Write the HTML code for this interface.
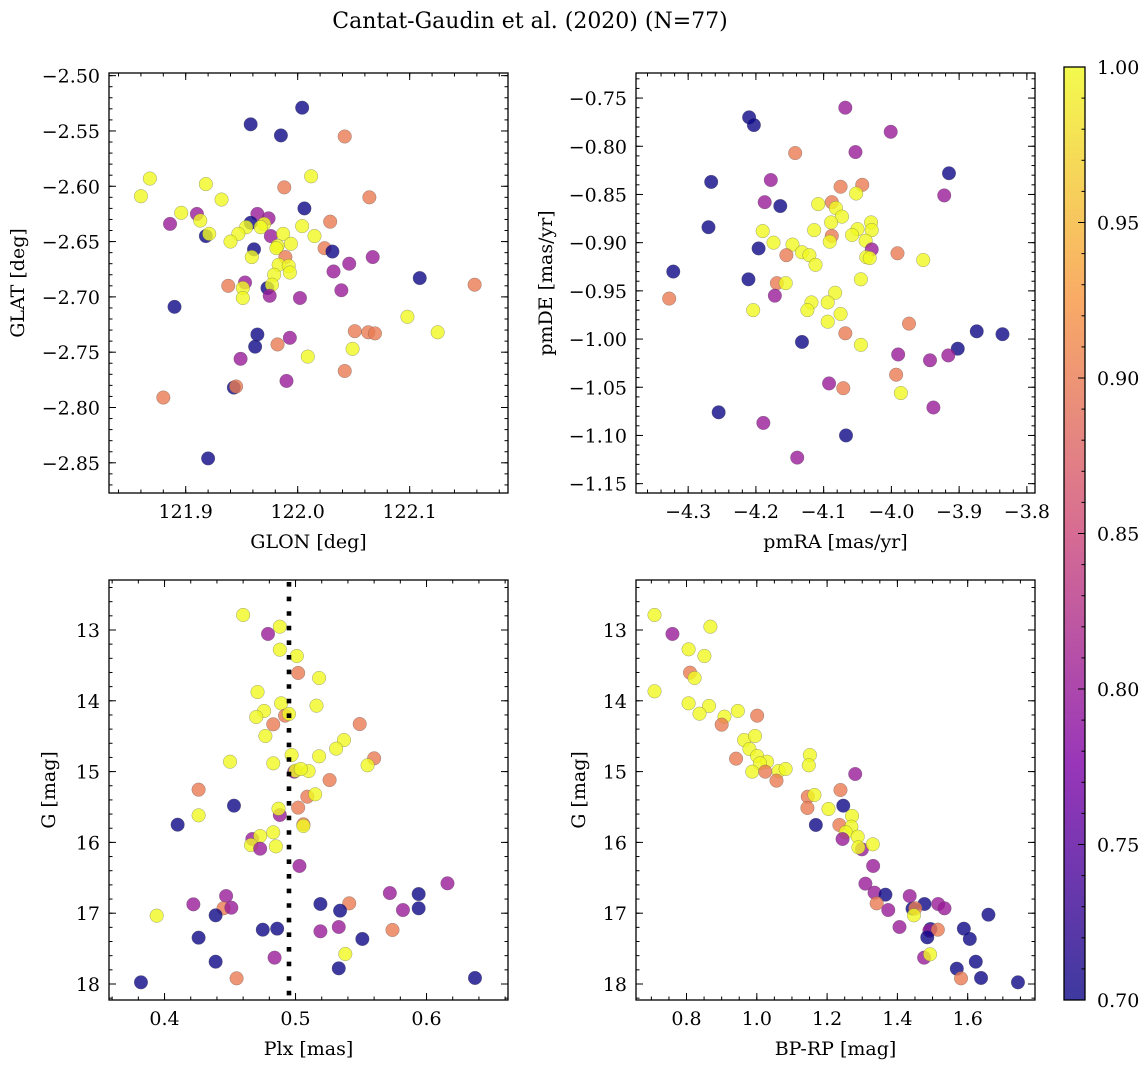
<!DOCTYPE html>
<html><head><meta charset="utf-8"><title>Cantat-Gaudin et al. (2020)</title>
<style>
html,body{margin:0;padding:0;background:#fff;}
svg{display:block;font-family:"DejaVu Serif","Liberation Serif",serif;}
</style></head>
<body>
<svg id="fig" width="1148" height="1067" viewBox="0 0 1148 1067" xmlns="http://www.w3.org/2000/svg">
<text x="530" y="28" font-size="22" text-anchor="middle">Cantat-Gaudin et al. (2020) (N=77)</text>
</svg>
<script>
// ---------- Panel 1: GLON / GLAT ----------
const p1Glon=[122.004,121.958,121.985,122.042,121.868,121.918,122.012,121.860,121.988,121.932,122.064,122.006,121.896,121.910,121.886,121.913,121.964,121.974,121.958,121.970,121.954,121.967,122.029,122.004,122.015,121.918,121.921,121.947,121.940,121.976,121.987,121.994,121.982,121.981,121.961,122.024,122.031,121.959,121.989,122.067,122.046,121.983,121.992,121.993,122.032,121.979,121.938,121.953,121.951,121.973,121.977,121.975,121.951,122.002,122.039,122.109,122.158,121.890,122.098,122.051,122.063,122.069,122.125,121.964,121.993,121.962,121.982,122.049,121.949,122.009,122.042,121.990,121.943,121.945,121.880,121.920];
const p1Glat=[-2.529,-2.544,-2.554,-2.555,-2.593,-2.598,-2.591,-2.609,-2.601,-2.612,-2.610,-2.620,-2.624,-2.625,-2.634,-2.631,-2.625,-2.629,-2.633,-2.634,-2.637,-2.637,-2.632,-2.636,-2.645,-2.645,-2.643,-2.643,-2.650,-2.645,-2.643,-2.652,-2.654,-2.656,-2.657,-2.656,-2.659,-2.664,-2.664,-2.664,-2.670,-2.671,-2.672,-2.678,-2.677,-2.680,-2.690,-2.687,-2.692,-2.692,-2.689,-2.699,-2.701,-2.701,-2.694,-2.683,-2.689,-2.709,-2.718,-2.731,-2.732,-2.733,-2.732,-2.734,-2.737,-2.745,-2.743,-2.747,-2.756,-2.754,-2.767,-2.776,-2.782,-2.781,-2.791,-2.846];
const p1Prob=[0.7,0.7,0.7,0.9,1,1,1,1,0.9,1,0.9,0.7,1,0.8,0.8,1,0.8,0.8,0.7,1,1,1,0.9,1,1,0.7,1,1,1,0.8,1,1,1,1,0.7,0.9,0.7,1,0.9,0.8,0.8,1,1,1,0.8,1,0.9,0.8,1,0.7,1,0.8,1,0.8,0.8,0.7,0.9,0.7,1,0.9,0.9,0.9,1,0.7,0.8,0.7,0.9,1,0.8,1,0.9,0.8,0.7,0.9,0.9,0.7];
const p1XTicks=[121.9,122.0,122.1];
const p1YTicks=[-2.50,-2.55,-2.60,-2.65,-2.70,-2.75,-2.80,-2.85];

// ---------- Panel 2: pmRA / pmDE ----------
const p2PmRA=[-4.068,-4.210,-4.203,-4.001,-4.142,-4.053,-3.915,-4.266,-4.178,-4.075,-4.043,-4.052,-4.187,-4.164,-4.088,-4.108,-4.082,-4.073,-4.089,-4.030,-4.050,-4.029,-4.190,-4.114,-4.270,-3.922,-4.058,-4.088,-4.091,-4.038,-4.029,-4.196,-4.174,-4.146,-4.132,-4.155,-4.121,-4.112,-4.037,-4.032,-3.991,-3.953,-4.322,-4.211,-4.169,-4.156,-4.045,-4.328,-4.172,-4.083,-4.204,-4.118,-4.094,-4.124,-4.075,-4.094,-3.974,-4.068,-4.132,-4.045,-3.874,-3.836,-3.902,-3.990,-3.916,-3.943,-3.993,-4.092,-4.071,-3.986,-3.938,-4.255,-4.189,-4.067,-4.139];
const p2PmDE=[-0.760,-0.770,-0.778,-0.785,-0.807,-0.806,-0.828,-0.837,-0.835,-0.842,-0.840,-0.849,-0.858,-0.862,-0.858,-0.860,-0.864,-0.873,-0.879,-0.879,-0.886,-0.887,-0.888,-0.887,-0.884,-0.851,-0.892,-0.893,-0.899,-0.898,-0.907,-0.906,-0.900,-0.902,-0.910,-0.913,-0.913,-0.923,-0.915,-0.916,-0.911,-0.918,-0.930,-0.938,-0.942,-0.942,-0.938,-0.958,-0.955,-0.952,-0.970,-0.962,-0.962,-0.970,-0.974,-0.982,-0.984,-0.994,-1.003,-1.006,-0.992,-0.995,-1.010,-1.016,-1.017,-1.022,-1.037,-1.046,-1.051,-1.056,-1.071,-1.076,-1.087,-1.100,-1.123];
const p2Prob=[0.8,0.7,0.7,0.8,0.9,0.8,0.7,0.7,0.8,0.9,0.9,1,0.8,0.7,0.9,1,1,1,1,1,1,1,1,1,0.7,0.8,1,0.9,1,1,0.8,0.7,1,1,1,0.9,1,1,1,1,0.9,1,0.7,0.7,0.9,1,1,0.9,0.8,1,1,1,1,1,1,1,0.9,0.9,0.7,1,0.7,0.7,0.7,0.8,0.8,0.8,0.9,0.8,0.9,1,0.8,0.7,0.8,0.7,0.8];
const p2XTicks=[-4.3,-4.2,-4.1,-4.0,-3.9,-3.8];
const p2YTicks=[-0.75,-0.80,-0.85,-0.90,-0.95,-1.00,-1.05,-1.10,-1.15];

// ---------- Panel 3: Plx / G ----------
const p3Plx=[0.460,0.488,0.479,0.488,0.501,0.502,0.518,0.471,0.489,0.516,0.476,0.470,0.492,0.495,0.483,0.549,0.477,0.537,0.531,0.497,0.518,0.560,0.555,0.450,0.483,0.499,0.500,0.510,0.504,0.526,0.426,0.509,0.515,0.453,0.502,0.488,0.487,0.426,0.410,0.506,0.506,0.483,0.467,0.473,0.466,0.473,0.485,0.503,0.616,0.572,0.594,0.447,0.422,0.519,0.541,0.445,0.451,0.534,0.582,0.594,0.394,0.439,0.475,0.486,0.519,0.533,0.574,0.426,0.551,0.538,0.484,0.439,0.533,0.455,0.637,0.382];
const p3G=[12.788,12.953,13.056,13.278,13.367,13.607,13.678,13.876,14.036,14.069,14.144,14.229,14.210,14.186,14.332,14.328,14.497,14.554,14.676,14.766,14.784,14.813,14.911,14.860,14.883,15.001,14.987,14.992,14.963,15.119,15.255,15.354,15.321,15.481,15.509,15.613,15.524,15.618,15.750,15.745,15.768,15.858,15.952,15.910,16.037,16.089,16.056,16.333,16.578,16.715,16.729,16.757,16.875,16.870,16.861,16.931,16.922,16.964,16.955,16.931,17.035,17.030,17.233,17.218,17.256,17.195,17.237,17.346,17.364,17.576,17.628,17.685,17.779,17.920,17.915,17.976];
const p3Prob=[1,1,0.8,1,1,0.9,1,1,1,1,1,1,0.9,1,0.9,0.9,1,1,1,1,1,0.9,1,1,1,0.8,1,1,1,0.9,0.9,0.9,1,0.7,0.9,0.8,1,1,0.7,0.9,1,1,0.8,1,1,0.8,1,0.8,0.8,0.8,0.7,0.8,0.8,0.7,0.9,0.9,0.8,0.7,0.8,0.7,1,0.7,0.7,0.7,0.8,0.8,0.9,0.7,0.7,1,0.8,0.7,0.7,0.9,0.7,0.7];
const plxCut=0.495;
const p3XTicks=[0.4,0.5,0.6];
const gTicks=[13,14,15,16,17,18];

// ---------- Panel 4: BP-RP / G ----------
const p4BpRp=[0.709,0.868,0.760,0.806,0.851,0.810,0.823,0.709,0.806,0.864,0.837,0.946,1.001,0.908,0.900,0.964,0.995,0.979,1.151,1.001,1.148,0.941,1.029,1.009,0.987,1.024,1.062,1.082,1.056,1.280,1.238,1.145,1.164,1.144,1.204,1.246,1.271,1.168,1.235,1.269,1.253,1.287,1.244,1.299,1.289,1.330,1.331,1.309,1.335,1.366,1.341,1.374,1.435,1.477,1.443,1.451,1.516,1.534,1.447,1.659,1.494,1.491,1.515,1.589,1.406,1.485,1.606,1.623,1.476,1.493,1.569,1.581,1.638,1.743];
const p4G=[12.788,12.953,13.056,13.273,13.367,13.603,13.678,13.866,14.036,14.073,14.182,14.144,14.210,14.224,14.337,14.554,14.497,14.681,14.766,14.780,14.911,14.817,14.860,14.883,15.001,15.001,14.992,14.963,15.128,15.034,15.260,15.354,15.330,15.514,15.528,15.481,15.627,15.754,15.754,15.778,15.858,15.919,15.952,16.098,16.070,16.027,16.333,16.583,16.710,16.738,16.861,16.955,16.757,16.870,16.936,16.931,16.870,16.931,17.030,17.021,17.223,17.247,17.233,17.218,17.195,17.341,17.364,17.685,17.628,17.581,17.783,17.920,17.915,17.976];
const p4Prob=[1,1,0.8,1,1,0.9,1,1,1,1,1,1,0.9,1,0.9,1,1,1,1,1,1,0.9,1,1,1,0.9,1,1,0.9,0.8,0.9,0.9,1,0.9,1,0.7,1,0.7,0.9,1,1,1,0.8,0.8,1,1,0.8,0.8,0.8,0.7,0.9,0.8,0.8,0.7,0.7,0.9,0.8,0.8,1,0.7,0.7,0.8,0.9,0.7,0.8,0.7,0.7,0.7,0.8,1,0.7,0.9,0.7,0.7];
const p4XTicks=[0.8,1.0,1.2,1.4,1.6];

// ---------- Colorbar ----------
const cbTicks=[0.70,0.75,0.80,0.85,0.90,0.95,1.00];
const cbRange=[0.70,1.00];

const NS="http://www.w3.org/2000/svg";
const svg=document.getElementById('fig');
const FS=19;
function mk(tag,attrs,parent){const e=document.createElementNS(NS,tag);for(const k in attrs)e.setAttribute(k,attrs[k]);(parent||svg).appendChild(e);return e;}
const stops=[[0,[13,8,135]],[0.25,[126,3,168]],[0.5,[204,71,120]],[0.75,[248,149,64]],[1,[240,249,33]]];
function plasma(t){t=Math.max(0,Math.min(1,t));for(let i=0;i<stops.length-1;i++){const a=stops[i],b=stops[i+1];if(t<=b[0]){const f=(t-a[0])/(b[0]-a[0]);const c=a[1].map((v,j)=>Math.round(v+(b[1][j]-v)*f));return `rgb(${c[0]},${c[1]},${c[2]})`;}}return 'rgb(240,249,33)';}
function colorOf(p){return plasma((p-cbRange[0])/(cbRange[1]-cbRange[0]));}
function fmt(v,d){return v.toFixed(d).replace('-','\u2212');}

function panel(cfg){
  const g=mk('g',{});
  
  
  const sx=v=>cfg.x0+(v-cfg.xd[0])/(cfg.xd[1]-cfg.xd[0])*(cfg.x1-cfg.x0);
  const sy=v=>cfg.y0+(v-cfg.yd[0])/(cfg.yd[1]-cfg.yd[0])*(cfg.y1-cfg.y0);
  const pts=mk('g',{},g);
  
  
  for(let i=0;i<cfg.xs.length;i++){
    const c=mk('circle',{cx:sx(cfg.xs[i]).toFixed(2),cy:sy(cfg.ys[i]).toFixed(2),r:6.8,fill:colorOf(cfg.cs[i]),'fill-opacity':0.8,stroke:'#555','stroke-opacity':0.55,'stroke-width':0.5},pts);
    
    
  }
  if(cfg.vline!==undefined){
    const l=mk('line',{x1:sx(cfg.vline),x2:sx(cfg.vline),y1:cfg.y0+2,y2:cfg.y1,stroke:'#000','stroke-width':4.6,'stroke-dasharray':'4.6 10'},g);
    
    
  }
  const tk=mk('g',{stroke:'#000','stroke-width':1},g);
  
  
  const xmin=Math.min(...cfg.xd),xmax=Math.max(...cfg.xd),ymin=Math.min(...cfg.yd),ymax=Math.max(...cfg.yd);
  for(let k=Math.ceil(xmin/cfg.xm-1e-6);k*cfg.xm<=xmax;k++){const x=sx(k*cfg.xm);mk('line',{x1:x,x2:x,y1:cfg.y1,y2:cfg.y1-3.5},tk);mk('line',{x1:x,x2:x,y1:cfg.y0,y2:cfg.y0+3.5},tk);}
  for(let k=Math.ceil(ymin/cfg.ym-1e-6);k*cfg.ym<=ymax;k++){const y=sy(k*cfg.ym);mk('line',{x1:cfg.x0,x2:cfg.x0+3.5,y1:y,y2:y},tk);mk('line',{x1:cfg.x1,x2:cfg.x1-3.5,y1:y,y2:y},tk);}
  cfg.xt.forEach(v=>{const x=sx(v);mk('line',{x1:x,x2:x,y1:cfg.y1,y2:cfg.y1-7},tk);mk('line',{x1:x,x2:x,y1:cfg.y0,y2:cfg.y0+7},tk);
    const t=mk('text',{x:x,y:cfg.y1+25,'font-size':FS,'text-anchor':'middle',stroke:'none',fill:'#000'},g);t.textContent=fmt(v,cfg.xdp);
    
    });
  cfg.yt.forEach(v=>{const y=sy(v);mk('line',{x1:cfg.x0,x2:cfg.x0+7,y1:y,y2:y},tk);mk('line',{x1:cfg.x1,x2:cfg.x1-7,y1:y,y2:y},tk);
    const t=mk('text',{x:cfg.x0-9,y:y+7,'font-size':FS,'text-anchor':'end',fill:'#000'},g);t.textContent=fmt(v,cfg.ydp);
    
    });
  const fr=mk('rect',{x:cfg.x0,y:cfg.y0,width:cfg.x1-cfg.x0,height:cfg.y1-cfg.y0,fill:'none',stroke:'#000','stroke-width':1.3},g);
  
  
  const xl=mk('text',{x:(cfg.x0+cfg.x1)/2,y:cfg.y1+55,'font-size':FS,'text-anchor':'middle'},g);xl.textContent=cfg.xlab;
  
  
  const cy=(cfg.y0+cfg.y1)/2;
  const yl=mk('text',{x:cfg.ylx,y:cy,'font-size':FS,'text-anchor':'middle',transform:`rotate(-90 ${cfg.ylx} ${cy})`},g);yl.textContent=cfg.ylab;
  
  
}

panel({name:'glon-glat-panel',x0:109,x1:508,y0:73,y1:493,xd:[121.8315,122.1878],yd:[-2.4976,-2.8773],xs:p1Glon,ys:p1Glat,cs:p1Prob,xt:p1XTicks,yt:p1YTicks,xm:0.02,ym:0.01,xdp:1,ydp:2,xlab:'GLON [deg]',ylab:'GLAT [deg]',ylx:24});
panel({name:'proper-motion-panel',x0:636,x1:1035,y0:73,y1:493,xd:[-4.377,-3.788],yd:[-0.724,-1.1597],xs:p2PmRA,ys:p2PmDE,cs:p2Prob,xt:p2XTicks,yt:p2YTicks,xm:0.02,ym:0.01,xdp:1,ydp:2,xlab:'pmRA [mas/yr]',ylab:'pmDE [mas/yr]',ylx:552});
panel({name:'parallax-g-panel',x0:109,x1:508,y0:580,y1:1000,xd:[0.3576,0.6622],yd:[12.294,18.226],xs:p3Plx,ys:p3G,cs:p3Prob,xt:p3XTicks,yt:gTicks,xm:0.02,ym:0.2,xdp:1,ydp:0,xlab:'Plx [mas]',ylab:'G [mag]',ylx:55,vline:plxCut});
panel({name:'cmd-panel',x0:636,x1:1035,y0:580,y1:1000,xd:[0.6563,1.7915],yd:[12.294,18.226],xs:p4BpRp,ys:p4G,cs:p4Prob,xt:p4XTicks,yt:gTicks,xm:0.05,ym:0.2,xdp:1,ydp:0,xlab:'BP-RP [mag]',ylab:'G [mag]',ylx:585});

(function(){
  const x0=1064,x1=1085,y0=67,y1=1000;
  const cg=mk('g',{});
  
  
  const defs=mk('defs',{},cg);
  const lg=mk('linearGradient',{id:'cbg',x1:0,y1:1,x2:0,y2:0},defs);
  for(let i=0;i<=20;i++){mk('stop',{offset:(i/20),'stop-color':plasma(i/20)},lg);}
  const r=mk('rect',{x:x0,y:y0,width:x1-x0,height:y1-y0,fill:'url(#cbg)','fill-opacity':0.8},cg);
  
  
  const sy=v=>y1-(v-cbRange[0])/(cbRange[1]-cbRange[0])*(y1-y0);
  for(let k=70;k<=100;k++){const y=sy(k/100);mk('line',{x1:x1,x2:x1-3.5,y1:y,y2:y,stroke:'#000','stroke-width':1},cg);}
  cbTicks.forEach(v=>{const y=sy(v);mk('line',{x1:x1,x2:x1-7,y1:y,y2:y,stroke:'#000','stroke-width':1},cg);
    const t=mk('text',{x:x1+12,y:y+7,'font-size':FS},cg);t.textContent=v.toFixed(2);
    
    });
  mk('rect',{x:x0,y:y0,width:x1-x0,height:y1-y0,fill:'none',stroke:'#000','stroke-width':1.3},cg);
})();
</script>
</body></html>
